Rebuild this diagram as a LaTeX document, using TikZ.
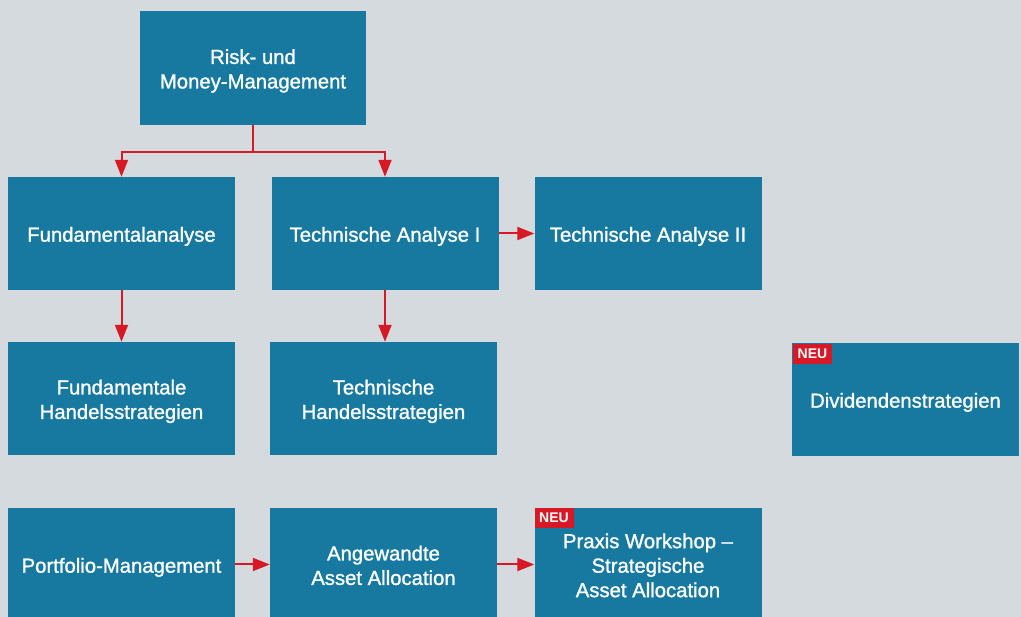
\documentclass[tikz,border=0pt]{standalone}
\usepackage{fontspec}
\setmainfont{Liberation Sans}
\newfontfamily\boxfont{Liberation Sans}[FakeBold=1.2,Ligatures=TeX]
\usetikzlibrary{arrows.meta}
\definecolor{bgc}{RGB}{213,218,223}
\definecolor{boxblue}{RGB}{23,121,160}
\definecolor{redc}{RGB}{215,25,38}
\tikzset{
  box/.style={rectangle, fill=boxblue, minimum width=227pt, minimum height=113pt, inner sep=0pt},
  boxtext/.style={text=white, inner sep=0pt, align=center, text depth=0pt, yshift=-0.8pt,
    font=\boxfont\fontsize{20.3}{24.5}\selectfont},
  neu/.style={rectangle, fill=redc, text=white, minimum width=39pt, minimum height=20pt,
    inner sep=0pt, font=\fontsize{14}{14}\selectfont\bfseries},
  arr/.style={draw=redc, line width=2pt, -{Triangle[length=17pt,width=13pt]}}
}
\begin{document}
\begin{tikzpicture}[x=1pt,y=-1pt]
\fill[bgc] (0,0) rectangle (1021,617);
\useasboundingbox (0,0) rectangle (1021,617);
\node[box, minimum width=226pt, minimum height=114pt] (risk) at (253,68) {};
\node[box] (fund) at (121.5,233.5) {};
\node[box] (ta1) at (385,233.5) {};
\node[box] (ta2) at (648,233.5) {};
\node[box] (fhs) at (121.5,398.5) {};
\node[box] (ths) at (383.5,398.5) {};
\node[box] (div) at (905.5,399.5) {};
\node[box] (port) at (121.5,564.5) {};
\node[box] (ang) at (383.5,564.5) {};
\node[box] (prax) at (648,564.5) {};
\node[boxtext] (risktext) at (risk.center) {Risk- und\\Money-Management};
\node[boxtext] (fundtext) at (fund.center) {Fundamentalanalyse};
\node[boxtext] (ta1text) at (ta1.center) {Technische Analyse I};
\node[boxtext] (ta2text) at (ta2.center) {Technische Analyse II};
\node[boxtext] (fhstext) at (fhs.center) {Fundamentale\\Handelsstrategien};
\node[boxtext] (thstext) at (ths.center) {Technische\\Handelsstrategien};
\node[boxtext] (divtext) at (div.center) {Dividendenstrategien};
\node[boxtext] (porttext) at (port.center) {Portfolio-Management};
\node[boxtext] (angtext) at (ang.center) {Angewandte\\Asset Allocation};
\node[boxtext] (praxtext) at (prax.center) {Praxis Workshop --\\Strategische\\Asset Allocation};
\node[neu, anchor=north west] (neu1) at ([xshift=1pt,yshift=-1pt]div.north west) {NEU};
\node[neu, anchor=north west] (neu2) at (prax.north west) {NEU};
\coordinate (split) at (253,152);
\draw[arr] (risk.south) -- (split) -| (fund.north);
\draw[arr] (split) -| (ta1.north);
\draw[arr] (fund.south) -- (fhs.north -| fund.south);
\draw[arr] (ta1.south) -- (ths.north -| ta1.south);
\draw[arr] (ta1.east) -- (ta2.west);
\draw[arr] (port.east) -- (ang.west);
\draw[arr] (ang.east) -- (prax.west);
\end{tikzpicture}
\end{document}
